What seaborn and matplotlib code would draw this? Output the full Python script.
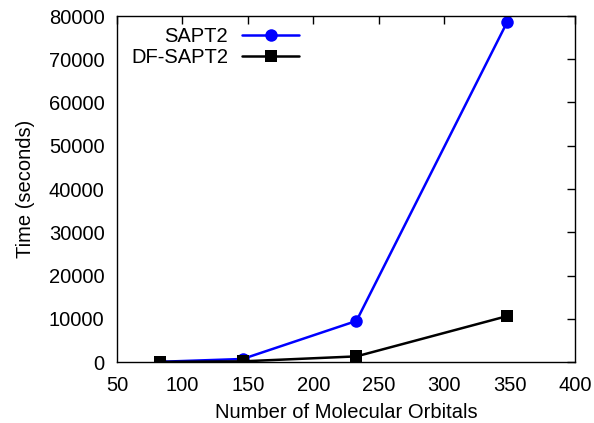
import matplotlib
matplotlib.use("Agg")
import matplotlib.pyplot as plt
import seaborn as sns
import pandas as pd

sns.set_theme(style="white")
plt.rcParams["font.family"] = ["Liberation Sans", "DejaVu Sans"]
plt.rcParams.update({
    "text.color": "black",
    "axes.labelcolor": "black",
    "xtick.color": "black",
    "ytick.color": "black",
})

orbitals = [83, 146, 233, 348]
sapt2 = [50, 700, 9500, 78500]
df_sapt2 = [20, 150, 1300, 10600]

df = pd.DataFrame({
    "orbitals": orbitals * 2,
    "time": sapt2 + df_sapt2,
    "method": ["SAPT2"] * 4 + ["DF-SAPT2"] * 4,
})

W, H = 594, 423
fig = plt.figure(figsize=(W / 100, H / 100), dpi=100)
ax = fig.add_axes([117 / W, 1 - 362 / H, (575 - 117) / W, (362 - 16) / H])

sns.lineplot(data=df, x="orbitals", y="time", hue="method", style="method",
             palette={"SAPT2": "#0000ff", "DF-SAPT2": "#000000"},
             markers={"SAPT2": "o", "DF-SAPT2": "s"}, dashes=False,
             markersize=9, linewidth=1.8, markeredgewidth=0, ax=ax)

fs = 14.5
ax.set_xlim(50, 400)
ax.set_ylim(0, 80000)
ax.set_xticks(range(50, 401, 50))
ax.set_yticks(range(0, 80001, 10000))
ax.set_xlabel("Number of Molecular Orbitals", fontsize=fs)
ax.set_ylabel("Time (seconds)", fontsize=fs)
ax.xaxis.set_label_coords(0.5, -(403 - 362) / 346)
ax.yaxis.set_label_coords((35 - 117) / 458, 0.5)
ax.tick_params(direction="in", length=6, width=1, top=True, right=True,
               labelsize=fs)
ax.tick_params(axis="x", pad=10)
ax.tick_params(axis="y", pad=9)
for s in ax.spines.values():
    s.set_color("black")
    s.set_linewidth(1)

leg = ax.legend(loc="upper right", bbox_to_anchor=(299 / W, 1 - 27 / H),
                bbox_transform=fig.transFigure, frameon=False,
                fontsize=fs, markerfirst=False, handlelength=2.83,
                handletextpad=0.7, labelspacing=0.08, borderpad=0,
                borderaxespad=0, title=None)
leg._legend_box.align = "right"

fig.savefig("out.png", dpi=100)
